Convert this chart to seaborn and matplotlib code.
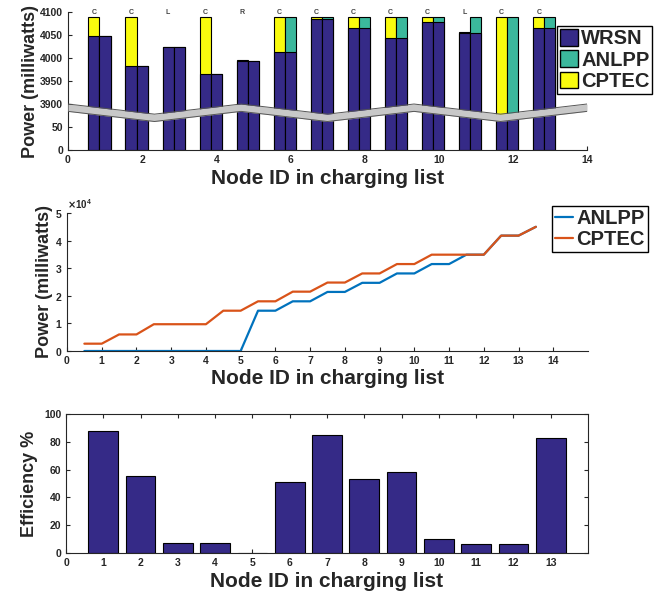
import numpy as np
import pandas as pd
import matplotlib
matplotlib.use('Agg')
import matplotlib.pyplot as plt
import seaborn as sns
from matplotlib.patches import Patch
from matplotlib.lines import Line2D

# ---- data ----
nodes = [1, 2, 3, 4, 5, 6, 7, 8, 9, 10, 11, 12, 13]
policy = ['C', 'C', 'L', 'C', 'R', 'C', 'C', 'C', 'C', 'C', 'L', 'C', 'C']
wrsn_power = [4048, 3983, 4024, 3965, 3994, 4013, 4085, 4066, 4043, 4078, 4055, 3876, 4066]
cptec_extra = [42, 107, 1, 125, 2, 77, 5, 24, 47, 12, 1, 214, 24]
anlpp_extra = [0, 0, 0, 0, 0, 77, 5, 24, 47, 12, 35, 214, 24]

step_x = [0.5, 1, 1.5, 2, 2.5, 3, 3.5, 4, 4.5, 5, 5.5, 6, 6.5, 7,
          7.5, 8, 8.5, 9, 9.5, 10, 10.5, 11, 11.5, 12, 12.5, 13, 13.5]
anlpp_cum = [0, 0, 0, 0, 0, 0, 0, 0, 0, 0, 14600, 14600, 18000, 18000,
             21400, 21400, 24700, 24700, 28100, 28100, 31500, 31500,
             34900, 34900, 41800, 41800, 45000]
cptec_cum = [2650, 2650, 6000, 6000, 9700, 9700, 9700, 9700, 14600, 14600,
             18000, 18000, 21500, 21500, 24800, 24800, 28100, 28100,
             31500, 31500, 34900, 34900, 34900, 34900, 41800, 41800, 45000]

efficiency = [87.5, 55.2, 7.5, 7.5, 0, 50.9, 85.1, 53.1, 58.6, 10.4, 6.5, 6.5, 82.7]

# colours
NAVY = '#352A87'
TEAL = '#3BB89C'
YELLOW = '#F9FB0E'
BLUE = '#0072BD'
ORANGE = '#D95319'
INK = '#262626'

sns.set_style('ticks')
plt.rcParams['font.family'] = ['Liberation Sans', 'DejaVu Sans']
plt.rcParams['font.weight'] = 'bold'
plt.rcParams['axes.labelweight'] = 'bold'
plt.rcParams['xtick.direction'] = 'in'
plt.rcParams['ytick.direction'] = 'in'
plt.rcParams['axes.edgecolor'] = INK
plt.rcParams['text.color'] = INK

TICK_FS = 7.5
XLAB_FS = 15
YLAB_FS = 13
LEG_FS = 14.5


# broken y axis: everything above the break is shifted down by 3800
def to_axis(v):
    v = np.asarray(v, dtype=float)
    return np.where(v > 50, v - 3800, v)


fig = plt.figure(figsize=(6.62, 5.92), dpi=100)

# ---------------- top: power per node ----------------
ax1 = fig.add_axes([0.1027, 0.7466, 0.784, 0.2331])
df = pd.DataFrame({'node': nodes, 'wrsn': wrsn_power,
                   'cptec': np.add(wrsn_power, cptec_extra),
                   'anlpp': np.add(wrsn_power, anlpp_extra)})
df['left'] = df['node'] - 0.3
bar_kw = dict(native_scale=True, width=0.3, saturation=1, errorbar=None,
              edgecolor='black', linewidth=0.8)
sns.barplot(x=df['left'], y=to_axis(df['cptec']), color=YELLOW, ax=ax1, **bar_kw)
sns.barplot(x=df['left'], y=to_axis(df['wrsn']), color=NAVY, ax=ax1, **bar_kw)
sns.barplot(x=df['node'], y=to_axis(df['anlpp']), color=TEAL, ax=ax1, **bar_kw)
sns.barplot(x=df['node'], y=to_axis(df['wrsn']), color=NAVY, ax=ax1, **bar_kw)

for x, lab in zip(df['left'], policy):
    ax1.text(x, 300, lab, ha='center', va='center', fontsize=5, color='#444444')

# break band (zig-zag)
bx = np.linspace(0, 14, 7)
bc = np.array([92, 70, 92, 70, 92, 70, 92])
ax1.fill_between(bx, bc - 8, bc + 8, color='#C8C8C8', zorder=5, linewidth=0)
ax1.plot(bx, bc - 8, color='#555555', lw=0.7, zorder=6)
ax1.plot(bx, bc + 8, color='#555555', lw=0.7, zorder=6)

ax1.set_xlim(0, 14)
ax1.set_ylim(0, 300)
ax1.set_xticks([0, 2, 4, 6, 8, 10, 12, 14])
ax1.set_xticklabels(['0', '2', '4', '6', '8', '10', '12', '14'])
ax1.set_yticks([0, 50, 100, 150, 200, 250, 300])
ax1.set_yticklabels(['0', '50', '3900', '3950', '4000', '4050', '4100'])
ax1.tick_params(labelsize=TICK_FS, length=3, colors=INK)
ax1.set_xlabel('Node ID in charging list', fontsize=XLAB_FS, labelpad=3)
ax1.set_ylabel('Power (milliwatts)', fontsize=YLAB_FS, labelpad=1)
sns.despine(ax=ax1)
ax1.legend(handles=[Patch(facecolor=NAVY, edgecolor='black'),
                    Patch(facecolor=TEAL, edgecolor='black'),
                    Patch(facecolor=YELLOW, edgecolor='black')],
           labels=['WRSN', 'ANLPP', 'CPTEC'],
           loc='upper left', bbox_to_anchor=(0.942, 0.899), borderaxespad=0,
           prop={'size': LEG_FS, 'weight': 'bold'}, fancybox=False, framealpha=1,
           edgecolor='black', handlelength=0.9, handleheight=0.9,
           handletextpad=0.15, borderpad=0.15, labelspacing=0.1)

# ---------------- middle: cumulative power ----------------
ax2 = fig.add_axes([0.1012, 0.4071, 0.787, 0.2331])
lines = pd.concat([
    pd.DataFrame({'x': step_x, 'power': anlpp_cum, 'method': 'ANLPP'}),
    pd.DataFrame({'x': step_x, 'power': cptec_cum, 'method': 'CPTEC'}),
])
sns.lineplot(data=lines, x='x', y='power', hue='method',
             palette={'ANLPP': BLUE, 'CPTEC': ORANGE}, linewidth=1.6,
             legend=False, ax=ax2)
ax2.set_xlim(0, 15)
ax2.set_ylim(0, 50000)
ax2.set_xticks(range(0, 15))
ax2.set_yticks([0, 10000, 20000, 30000, 40000, 50000])
ax2.ticklabel_format(axis='y', style='sci', scilimits=(4, 4), useMathText=True)
ax2.yaxis.get_offset_text().set_fontsize(7)
ax2.tick_params(labelsize=TICK_FS, length=3, colors=INK)
ax2.set_xlabel('Node ID in charging list', fontsize=XLAB_FS, labelpad=2)
ax2.set_ylabel('Power (milliwatts)', fontsize=YLAB_FS, labelpad=1)
sns.despine(ax=ax2)
ax2.legend(handles=[Line2D([], [], color=BLUE, lw=1.6),
                    Line2D([], [], color=ORANGE, lw=1.6)],
           labels=['ANLPP', 'CPTEC'],
           loc='upper left', bbox_to_anchor=(0.931, 1.05), borderaxespad=0,
           prop={'size': LEG_FS, 'weight': 'bold'}, fancybox=False, framealpha=1,
           edgecolor='black', handlelength=0.9, handletextpad=0.15,
           borderpad=0.15, labelspacing=0.1)

# ---------------- bottom: efficiency ----------------
ax3 = fig.add_axes([0.0997, 0.0659, 0.7885, 0.2348])
sns.barplot(x=nodes, y=efficiency, native_scale=True, width=0.8, color=NAVY,
            saturation=1, errorbar=None, edgecolor='black', linewidth=0.8, ax=ax3)
ax3.set_xlim(0, 14)
ax3.set_ylim(0, 100)
ax3.set_xticks(range(0, 14))
ax3.set_yticks([0, 20, 40, 60, 80, 100])
ax3.tick_params(labelsize=TICK_FS, length=3, colors=INK, top=True, right=True)
ax3.set_xlabel('Node ID in charging list', fontsize=XLAB_FS, labelpad=3)
ax3.set_ylabel('Efficiency %', fontsize=YLAB_FS, labelpad=4)

fig.savefig('out.png', dpi=100)
